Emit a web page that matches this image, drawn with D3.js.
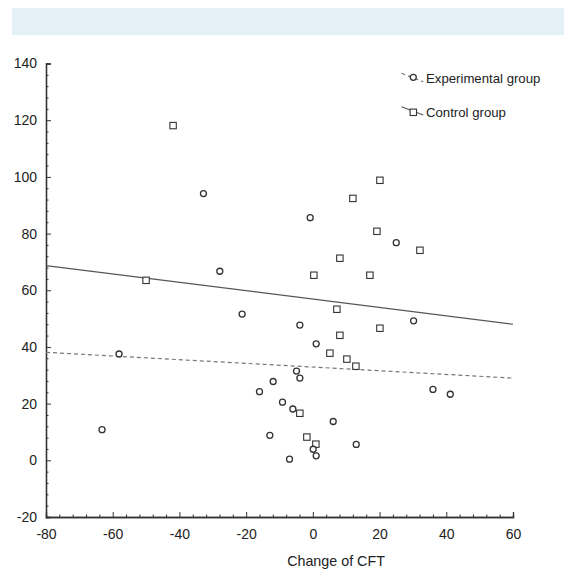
<!DOCTYPE html>
<html>
<head>
<meta charset="utf-8">
<script src="https://cdn.jsdelivr.net/npm/d3@7"></script>
<style>
  body { margin: 0; background: #fff; }
  svg { display: block; font-family: "Liberation Sans", Arial, sans-serif; }
</style>
</head>
<body>
<svg id="chart" width="564" height="570"></svg>
<script>
// Data
const xTicks = [-80, -60, -40, -20, 0, 20, 40, 60];
const yTicks = [-20, 0, 20, 40, 60, 80, 100, 120, 140];
const xTitle = "Change of CFT";
const seriesNames = ["Experimental group", "Control group"];

// Experimental group (circles): [change of CFT, y]
const experimental = [
  [-32.8, 94.1], [-0.8, 85.6], [25.0, 76.8], [-27.9, 66.7], [-21.2, 51.6],
  [-3.9, 47.7], [30.2, 49.2], [1.0, 41.1], [-58.1, 37.5], [-4.9, 31.5],
  [-3.9, 29.0], [-11.9, 27.8], [-16.0, 24.2], [36.0, 25.0], [41.2, 23.3],
  [-9.1, 20.5], [-6.0, 18.1], [6.1, 13.7], [-63.2, 10.8], [-12.9, 8.8],
  [0.1, 3.9], [1.0, 1.6], [-7.0, 0.4], [13.0, 5.6]
];
// Control group (squares)
const control = [
  [-41.9, 118.1], [-50.0, 63.5], [20.1, 98.8], [12.0, 92.4], [19.2, 80.8],
  [8.1, 71.3], [32.1, 74.1], [0.3, 65.3], [17.1, 65.3], [7.2, 53.3],
  [20.1, 46.6], [8.1, 44.1], [5.1, 37.8], [10.2, 35.7], [12.9, 33.2],
  [-3.9, 16.6], [-1.8, 8.2], [0.9, 5.7]
];
// Fitted lines (endpoints)
const experimentalFit = [[-80, 38.1], [60, 29.0]];
const controlFit = [[-80, 68.7], [60, 48.0]];

const svg = d3.select("#chart");

// top band
svg.append("rect").attr("x", 12).attr("y", 8).attr("width", 552).attr("height", 27)
  .attr("fill", "#e3f1f6");

const x = d3.scaleLinear().domain([-80, 60]).range([46, 513]);
const y = d3.scaleLinear().domain([-20, 140]).range([517, 63.5]);

const axisColor = "#333";
const textColor = "#222";
const fmt = v => String(v); // plain hyphen-minus as in the reference

// minor ticks (every 4 units)
const xMinor = d3.range(-80, 60.1, 4).filter(v => !xTicks.includes(v));
const yMinor = d3.range(-20, 140.1, 4).filter(v => !yTicks.includes(v));

const gx = svg.append("g").attr("transform", `translate(0,${y(-20)})`);
gx.call(d3.axisBottom(x).tickValues(xMinor).tickSize(-2.5).tickFormat(""));
gx.append("g").call(d3.axisBottom(x).tickValues(xTicks).tickSize(-5).tickPadding(12).tickFormat(fmt));
gx.selectAll(".domain").attr("stroke", axisColor).attr("stroke-width", 1.3);
gx.selectAll(".tick line").attr("stroke", axisColor);
gx.selectAll("text").attr("fill", textColor).attr("font-size", 14)
  .attr("font-family", "'Liberation Sans', Arial, sans-serif");

const gy = svg.append("g").attr("transform", `translate(${x(-80)},0)`);
gy.call(d3.axisLeft(y).tickValues(yMinor).tickSize(-2.5).tickFormat(""));
gy.append("g").call(d3.axisLeft(y).tickValues(yTicks).tickSize(-5).tickPadding(9).tickFormat(fmt));
gy.selectAll(".domain").attr("stroke", axisColor).attr("stroke-width", 1.3);
gy.selectAll(".tick line").attr("stroke", axisColor);
gy.selectAll("text").attr("fill", textColor).attr("font-size", 14)
  .attr("font-family", "'Liberation Sans', Arial, sans-serif");

// axis title
svg.append("text").attr("x", 336).attr("y", 566).attr("text-anchor", "middle")
  .attr("font-size", 14.3).attr("fill", textColor).text(xTitle);

// fit lines
const line = d3.line().x(d => x(d[0])).y(d => y(d[1]));
svg.append("path").datum(controlFit).attr("d", line)
  .attr("fill", "none").attr("stroke", "#555").attr("stroke-width", 1.2);
svg.append("path").datum(experimentalFit).attr("d", line)
  .attr("fill", "none").attr("stroke", "#777").attr("stroke-width", 1.2)
  .attr("stroke-dasharray", "4,3");

// points
svg.append("g").selectAll("rect").data(control).join("rect")
  .attr("x", d => x(d[0]) - 3.2).attr("y", d => y(d[1]) - 3.2)
  .attr("width", 6.4).attr("height", 6.4)
  .attr("fill", "#fff").attr("stroke", "#333").attr("stroke-width", 1.1);
svg.append("g").selectAll("circle").data(experimental).join("circle")
  .attr("cx", d => x(d[0])).attr("cy", d => y(d[1])).attr("r", 3)
  .attr("fill", "#fff").attr("stroke", "#333").attr("stroke-width", 1.3);

// legend
const lg = svg.append("g");
// experimental
lg.append("line").attr("x1", 401.5).attr("y1", 73.3).attr("x2", 423.3).attr("y2", 81.7)
  .attr("stroke", "#777").attr("stroke-width", 1.2).attr("stroke-dasharray", "4,3");
lg.append("circle").attr("cx", 413.3).attr("cy", 77.3).attr("r", 3)
  .attr("fill", "#fff").attr("stroke", "#333").attr("stroke-width", 1.3);
lg.append("text").attr("x", 426).attr("y", 82.5).attr("font-size", 13.2)
  .attr("fill", textColor).text(seriesNames[0]);
// control
lg.append("line").attr("x1", 401.5).attr("y1", 106.7).attr("x2", 423.3).attr("y2", 115)
  .attr("stroke", "#555").attr("stroke-width", 1.2);
lg.append("rect").attr("x", 413.3 - 3.2).attr("y", 112.3 - 3.2).attr("width", 6.4).attr("height", 6.4)
  .attr("fill", "#fff").attr("stroke", "#333").attr("stroke-width", 1.1);
lg.append("text").attr("x", 426).attr("y", 117).attr("font-size", 13.2)
  .attr("fill", textColor).text(seriesNames[1]);
</script>
</body>
</html>
